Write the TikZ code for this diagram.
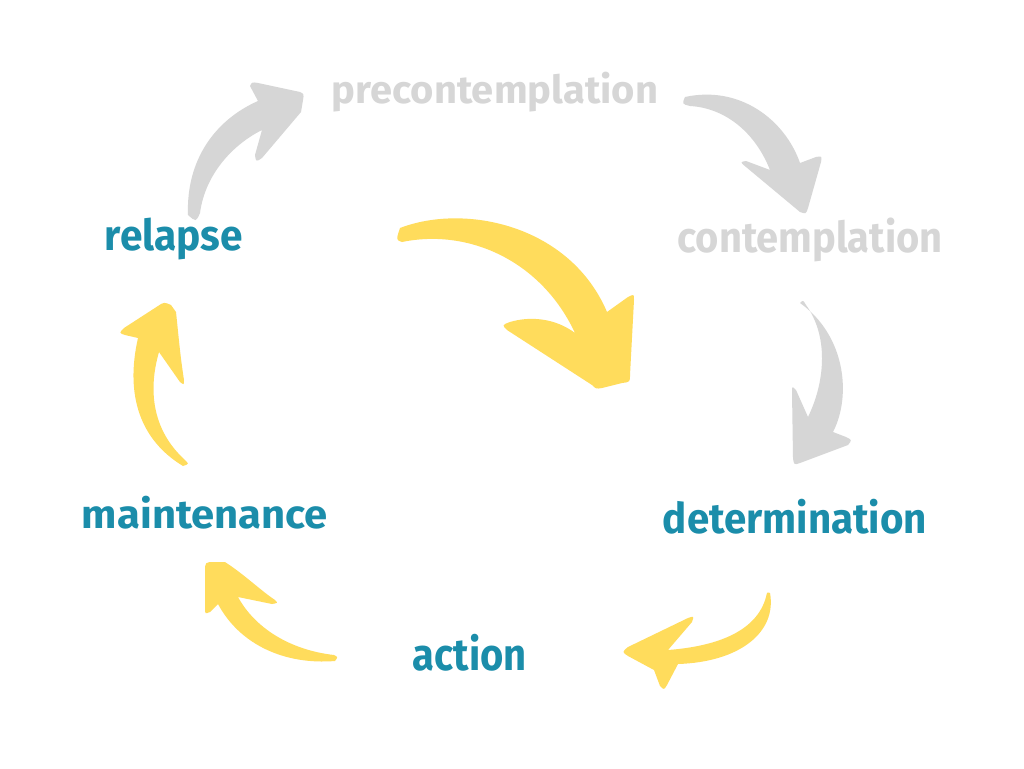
\documentclass[tikz,border=0pt]{standalone}
\usepackage{fontspec}
\setmainfont{Fira Sans}
\usepackage{graphicx}
\definecolor{tealA}{HTML}{1B8DAA}
\definecolor{greyA}{HTML}{D6D6D6}
\definecolor{yellowA}{HTML}{FFDC5C}
\tikzset{
  stage/.style={inner sep=0pt, font=\bfseries},
  active/.style={stage, text=tealA},
  past/.style={stage, text=greyA},
  grayarrow/.style={fill=greyA, draw=none},
  yelarrow/.style={fill=yellowA, draw=none}
}
\begin{document}
\begin{tikzpicture}[x=1pt,y=-1pt]
\useasboundingbox[fill=white] (0,0) rectangle (1024,768);

% labels
\node[past] (pre) at (495,92) {\resizebox*{326pt}{40pt}{precontemplation}};
\node[past] (con) at (810,240) {\resizebox*{265pt}{44pt}{contemplation}};
\node[active] (rel) at (174,239) {\resizebox*{138pt}{42pt}{relapse}};
\node[active] (mai) at (205,513) {\resizebox*{246pt}{33pt}{maintenance}};
\node[active] (det) at (795,517) {\resizebox*{264pt}{35pt}{determination}};
\node[active] (act) at (470,653) {\resizebox*{114pt}{37pt}{action}};

% gray arrow: relapse -> precontemplation
\fill[grayarrow] (188,215) .. controls (186,160) and (215,120) .. (258,101) -- (250,86) .. controls (252,82) .. (258,83) -- (300,92) .. controls (304,94) .. (303,100) -- (301,112) -- (262,158) .. controls (256,162) .. (255,155) -- (262,130) .. controls (232,145) and (205,175) .. (200,213) .. controls (196,222) .. (188,215) -- cycle;

% gray arrow: precontemplation -> contemplation
\fill[grayarrow] (685,97) .. controls (740,85) and (785,120) .. (800,163) -- (816,157) .. controls (822,156) .. (821,162) -- (808,208) .. controls (806,214) .. (800,212) -- (746,167) .. controls (740,162) .. (746,161) -- (770,170) .. controls (755,132) and (725,108) .. (690,106) .. controls (682,104) .. (685,97) -- cycle;

% gray arrow: contemplation -> determination
\fill[grayarrow] (800,303) .. controls (845,335) and (852,395) .. (833,432) -- (846,437) .. controls (852,440) .. (848,445) -- (800,463) .. controls (794,465) .. (793,458) -- (792,392) .. controls (792,386) .. (796,390) -- (808,417) .. controls (826,380) and (828,335) .. (806,305) .. controls (803,300) .. (800,303) -- cycle;

% big yellow arrow
\fill[yelarrow] (400,228) .. controls (465,203) and (570,225) .. (607,312) -- (628,297) .. controls (634,294) .. (634,300) -- (630,375) .. controls (630,382) .. (622,383) -- (602,388) .. controls (596,389) .. (592,385) -- (507,330) .. controls (502,325) .. (510,322) .. controls (530,316) and (555,318) .. (575,333) .. controls (542,262) and (470,228) .. (402,242) .. controls (396,240) .. (400,228) -- cycle;

% yellow arrow: determination -> action
\fill[yelarrow] (770,593) .. controls (777,632) and (740,662) .. (678,664) -- (667,685) .. controls (664,690) .. (660,686) -- (654,670) -- (628,656) .. controls (622,652) .. (628,647) -- (688,618) .. controls (694,616) .. (692,622) -- (668,650) .. controls (720,646) and (757,630) .. (766,597) .. controls (767,592) .. (770,593) -- cycle;

% yellow arrow: action -> maintenance
\fill[yelarrow] (335,661) .. controls (285,665) and (240,645) .. (218,604) -- (210,612) .. controls (205,614) .. (205,608) -- (205,572) .. controls (205,562) .. (215,562) -- (225,562) .. controls (245,575) and (260,590) .. (275,600) .. controls (278,603) .. (272,604) -- (238,597) .. controls (255,628) and (290,650) .. (334,655) .. controls (338,657) .. (335,661) -- cycle;

% yellow arrow: maintenance -> relapse
\fill[yelarrow] (183,466) .. controls (140,440) and (125,395) .. (138,338) -- (125,335) .. controls (119,333) .. (124,328) -- (158,306) .. controls (164,302) .. (171,305) -- (176,312) .. controls (178,330) and (180,355) .. (184,380) .. controls (184,385) .. (180,382) -- (159,352) .. controls (148,390) and (152,430) .. (185,460) .. controls (189,464) .. (183,466) -- cycle;
\end{tikzpicture}
\end{document}
